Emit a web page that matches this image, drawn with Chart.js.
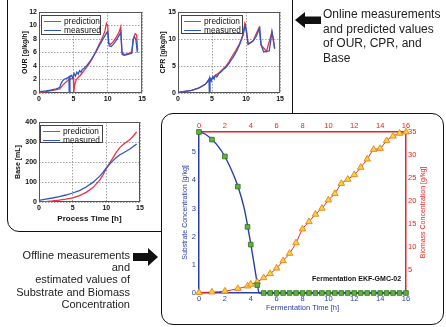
<!DOCTYPE html>
<html>
<head>
<meta charset="utf-8">
<script src="https://cdn.jsdelivr.net/npm/chart.js@4.4.0/dist/chart.umd.min.js"></script>
<style>
body{margin:0;width:446px;height:327px;position:relative;overflow:hidden;background:#fff;font-family:"Liberation Sans",Arial,sans-serif;color:#111}
.box{position:absolute;box-sizing:border-box;border:1.3px solid #111;border-radius:12px;background:#fff}
canvas{position:absolute}
.lg{position:absolute;box-sizing:border-box;border:1px solid #444;background:#fff;font-size:8.3px;line-height:8.6px;padding:1px 2px}
.lg div{white-space:nowrap}
.lg span{display:inline-block;width:17px;height:0;border-top:1.3px solid;vertical-align:middle;margin-right:3px}
.note{position:absolute;white-space:nowrap;color:#222}
</style>
</head>
<body>
<div class="box" style="left:7px;top:-14px;width:286px;height:246px"></div>

<canvas id="our" width="136" height="104" style="left:12px;top:2px"></canvas>
<canvas id="cpr" width="134" height="104" style="left:152px;top:2px"></canvas>
<canvas id="base" width="134" height="116" style="left:12px;top:112px"></canvas>

<div class="lg" style="left:41px;top:15px;width:60px;height:20px">
  <div><span style="color:#f0303c"></span>prediction</div>
  <div><span style="color:#2f55c8"></span>measured</div>
</div>
<div class="lg" style="left:181px;top:15px;width:62px;height:19px">
  <div><span style="color:#f0303c"></span>prediction</div>
  <div><span style="color:#2f55c8"></span>measured</div>
</div>
<div class="lg" style="left:40px;top:125px;width:63px;height:18px">
  <div><span style="color:#f0303c"></span>prediction</div>
  <div><span style="color:#2f55c8"></span>measured</div>
</div>

<div class="box" style="left:161px;top:113px;width:283px;height:212px"></div>
<canvas id="ferm" width="280" height="210" style="left:162px;top:114px"></canvas>
<div class="note" style="left:312px;top:275px;font-size:7px;font-weight:bold;color:#111">Fermentation EKF-GMC-02</div>

<svg width="446" height="327" style="position:absolute;left:0;top:0">
  <polygon points="295,20 305,12 305,16.5 321,16.5 321,24 305,24 305,28" fill="#111"/>
  <polygon points="158,257 148,248 148,253 133,253 133,261 148,261 148,266" fill="#111"/>
</svg>

<div class="note" style="left:323px;top:7px;font-size:12px;line-height:14.6px">Online measurements<br>and predicted values<br>of OUR, CPR, and<br>Base</div>
<div class="note" style="right:316px;top:249px;font-size:11px;line-height:12.2px;text-align:right">Offline measurements<br>and<br>estimated values of<br>Substrate and Biomass<br>Concentration</div>

<script>
// online signals, OUR [g/kg/h]
var ourMeasT = [0, 0.5, 1, 1.5, 2, 2.5, 3, 3.2, 3.5, 3.8, 4.1, 4.35, 4.4, 4.5, 4.7, 4.9, 5.1, 5.3, 5.5, 5.7, 5.9, 6.1, 6.3, 6.6, 6.9, 7.2, 7.5, 7.8, 8.1, 8.4, 8.7, 9.0, 9.3, 9.6, 9.9, 10.0, 10.2, 10.5, 10.8, 11.1, 11.4, 11.7, 11.9, 12.1, 12.4, 12.8, 13.2, 13.5, 13.7, 13.9, 14.1, 14.3];
var ourMeasY = [0.2, 0.25, 0.3, 0.4, 0.5, 0.6, 0.8, 1.4, 1.9, 2.1, 2.2, 2.4, 0.1, 2.5, 2.6, 2.3, 2.9, 2.5, 3.1, 2.8, 3.3, 3.1, 3.5, 3.7, 4.0, 4.4, 4.8, 5.3, 5.8, 6.3, 6.9, 7.4, 8.0, 8.5, 9.0, 9.2, 7.0, 6.9, 7.2, 7.6, 8.1, 8.6, 9.0, 5.7, 5.6, 5.7, 5.8, 5.9, 8.0, 8.3, 7.9, 6.0];
var ourPredT = [0, 1, 2, 3, 3.5, 4, 4.5, 4.9, 5.0, 5.05, 5.2, 5.4, 5.6, 5.8, 6.0, 6.3, 6.6, 7.0, 7.4, 7.8, 8.2, 8.6, 9.0, 9.3, 9.6, 9.8, 10.0, 10.1, 10.4, 10.8, 11.2, 11.6, 11.9, 12.05, 12.4, 12.8, 13.2, 13.5, 13.8, 14.0, 14.2, 14.35];
var ourPredY = [0.1, 0.2, 0.4, 0.6, 1.2, 1.7, 2.0, 2.2, 2.3, 0.1, 1.2, 1.9, 2.2, 2.4, 2.6, 3.0, 3.4, 3.9, 4.5, 5.2, 6.0, 6.9, 7.7, 8.4, 9.2, 10.3, 9.9, 7.4, 7.2, 7.6, 8.2, 8.9, 9.8, 6.0, 5.7, 5.8, 5.9, 6.2, 8.3, 8.8, 8.6, 6.3];

// CPR [g/kg/h]
var cprMeasT = [0, 1, 2, 3, 3.5, 4, 4.3, 4.55, 4.6, 4.7, 4.9, 5.1, 5.3, 5.5, 5.7, 6.0, 6.3, 6.6, 6.9, 7.2, 7.5, 7.8, 8.1, 8.4, 8.7, 9.0, 9.3, 9.6, 9.8, 9.9, 10.1, 10.3, 10.7, 11.1, 11.5, 11.9, 12.0, 12.2, 12.6, 13.0, 13.4, 13.6, 13.8, 14.0, 14.2];
var cprMeasY = [0.1, 0.3, 0.5, 0.9, 1.2, 1.6, 2.0, 2.6, 0.3, 2.8, 2.2, 3.0, 2.6, 3.3, 3.0, 3.6, 3.9, 4.3, 4.6, 5.0, 5.5, 6.1, 6.6, 7.3, 8.0, 8.8, 9.8, 10.9, 12.2, 12.6, 11.2, 9.0, 9.3, 9.7, 10.5, 11.8, 12.3, 8.9, 7.6, 7.7, 7.8, 9.5, 11.4, 10.0, 8.2];
var cprPredT = [0, 1, 2, 3, 4, 4.5, 5.0, 5.5, 6.0, 6.5, 7.0, 7.5, 8.0, 8.5, 9.0, 9.5, 9.8, 10.0, 10.3, 11.0, 11.9, 12.2, 13.0, 13.8, 14.2];
var cprPredY = [0.1, 0.3, 0.5, 0.9, 1.6, 2.4, 2.7, 3.3, 3.7, 4.3, 4.9, 5.8, 6.9, 7.9, 9.0, 10.6, 12.8, 11.6, 9.1, 9.6, 12.1, 8.9, 7.7, 11.3, 8.2];

// Base [mL]
var baseMeasT = [0, 1, 2, 3, 4, 5, 6, 7, 8, 9, 9.5, 10, 10.5, 11, 11.5, 12, 12.5, 13, 13.5, 14, 14.5];
var baseMeasY = [8, 14, 20, 27, 35, 45, 57, 75, 98, 128, 148, 170, 190, 207, 222, 236, 245, 255, 265, 278, 290];
var basePredT = [0, 1, 2, 3, 4, 5, 6, 7, 8, 9, 9.5, 10, 10.5, 11, 11.5, 12, 12.5, 13, 13.5, 14, 14.5];
var basePredY = [0, 2, 5, 9, 14, 21, 32, 48, 72, 108, 135, 168, 195, 222, 250, 272, 288, 300, 312, 330, 350];

// offline: substrate [g/kg], biomass [g/kg]
var subCurveT = [0, 0.5, 1, 1.5, 2, 2.5, 3, 3.5, 3.75, 4, 4.25, 4.5, 4.65, 5, 16];
var subCurveY = [5.72, 5.64, 5.45, 5.2, 4.85, 4.38, 3.8, 3.0, 2.4, 1.75, 1.05, 0.35, 0, 0, 0];
var subT = [0, 1, 2, 3, 3.75, 4, 4.5, 5, 5.5, 6, 6.5, 7, 7.5, 8, 8.5, 9, 9.5, 10, 10.5, 11, 11.5, 12, 12.5, 13, 13.5, 14, 14.5, 15, 15.5, 16];
var subY = [5.72, 5.45, 4.85, 3.78, 2.35, 1.72, 0.28, 0, 0, 0, 0, 0, 0, 0, 0, 0, 0, 0, 0, 0, 0, 0, 0, 0, 0, 0, 0, 0, 0, 0];
var bioT = [0, 1, 2, 3, 3.75, 4, 4.5, 5, 5.5, 6, 6.5, 7, 7.5, 8, 8.5, 9, 9.5, 10, 10.5, 11, 11.5, 12, 12.5, 13, 13.5, 14, 14.5, 15, 15.5, 16];
var bioY = [0.1, 0.2, 0.4, 0.95, 1.5, 1.9, 2.4, 3.3, 4.2, 5.4, 7.0, 8.6, 10.9, 13.9, 15.5, 17.1, 18.4, 20.2, 21.6, 23.8, 24.7, 25.7, 27.3, 29.1, 31.2, 31.4, 33.1, 34.1, 34.7, 35];

var RED = '#f0303c', BLUE = '#2f55c8';
var RED2 = '#e8231f', BLUE2 = '#2a3fa8';
var FONT = '"Liberation Sans", Arial, sans-serif';

var pts = (xs, ys) => xs.map((x, i) => ({x: x, y: ys[i]}));

// box round the plot area
var framePlugin = {
  id: 'frame',
  beforeDatasetsDraw(chart, args, o) {
    var a = chart.chartArea, ctx = chart.ctx;
    ctx.save();
    ctx.strokeStyle = o.color || '#555';
    ctx.lineWidth = 1;
    ctx.strokeRect(a.left + 0.5, a.top + 0.5, a.right - a.left - 1, a.bottom - a.top - 1);
    ctx.restore();
  }
};

// rotated title on the right, reading bottom to top
var sideTitle = {
  id: 'sideTitle',
  afterDraw(chart, args, o) {
    var a = chart.chartArea, ctx = chart.ctx;
    ctx.save();
    ctx.translate(o.x, (a.top + a.bottom) / 2);
    ctx.rotate(-Math.PI / 2);
    ctx.fillStyle = o.color;
    ctx.font = o.font;
    ctx.textAlign = 'center';
    ctx.textBaseline = 'middle';
    ctx.fillText(o.text, 0, 0);
    ctx.restore();
  }
};

function smallChart(id, c) {
  var tickFont = {family: FONT, size: 7, weight: 'bold'};
  var grid = {color: '#8a8a8a', lineWidth: 0.8, drawTicks: false};
  return new Chart(document.getElementById(id), {
    type: 'line',
    data: {
      datasets: [
        {data: pts(c.measT, c.measY), borderColor: BLUE, borderWidth: 1.3, order: 1},
        {data: pts(c.predT, c.predY), borderColor: RED, borderWidth: 1.3, order: 2}
      ]
    },
    options: {
      responsive: false,
      animation: false,
      devicePixelRatio: 1,
      layout: {padding: {top: 10, right: c.right, left: 0, bottom: 0}},
      elements: {point: {radius: 0}, line: {tension: 0}},
      plugins: {legend: {display: false}, tooltip: {enabled: false}, frame: {color: '#555'}},
      scales: {
        x: {
          type: 'linear', min: 0, max: 15,
          afterFit: s => { s.height = c.xh; },
          ticks: {stepSize: 5, font: tickFont, color: '#111', padding: 2, maxRotation: 0},
          grid: grid,
          border: {display: false, dash: [1.5, 1.5]},
          title: c.xTitle ? {display: true, text: c.xTitle, color: '#111',
            font: {family: FONT, size: 8, weight: 'bold'}, padding: {top: 0, bottom: 4}} : {display: false}
        },
        y: {
          type: 'linear', min: 0, max: c.ymax,
          afterFit: s => { s.width = c.yw; },
          ticks: {stepSize: c.ystep, font: tickFont, color: '#111', padding: 2},
          grid: grid,
          border: {display: false, dash: [1.5, 1.5]},
          title: {display: true, text: c.yTitle, color: '#111',
            font: {family: FONT, size: 7, weight: 'bold'}, padding: {top: c.tpad, bottom: 0}}
        }
      }
    },
    plugins: [framePlugin]
  });
}

smallChart('our', {measT: ourMeasT, measY: ourMeasY, predT: ourPredT, predY: ourPredY,
  ymax: 12, ystep: 2, yTitle: 'OUR [g/kg/h]', yw: 27, xh: 13, right: 5, tpad: 9});
smallChart('cpr', {measT: cprMeasT, measY: cprMeasY, predT: cprPredT, predY: cprPredY,
  ymax: 15, ystep: 5, yTitle: 'CPR [g/kg/h]', yw: 26, xh: 13, right: 5, tpad: 7});
smallChart('base', {measT: baseMeasT, measY: baseMeasY, predT: basePredT, predY: basePredY,
  ymax: 400, ystep: 100, yTitle: 'Base [mL]', yw: 27, xh: 26, right: 6, tpad: 2,
  xTitle: 'Process Time [h]'});

var fTick = {family: FONT, size: 7.5};
new Chart(document.getElementById('ferm'), {
  type: 'line',
  data: {
    datasets: [
      {data: pts(subT, subY), showLine: false, pointStyle: 'rect', pointRadius: 3.3,
        backgroundColor: '#62b23a', borderColor: '#2e6e1e', pointBorderWidth: 0.8,
        yAxisID: 'y', clip: false, order: 1},
      {data: pts(bioT, bioY), borderColor: RED2, borderWidth: 1, tension: 0.25,
        pointStyle: 'triangle', pointRadius: 3.8, pointBackgroundColor: '#f7d33c',
        pointBorderColor: '#e5821a', pointBorderWidth: 0.9, yAxisID: 'y2', clip: false, order: 2},
      {data: pts(subCurveT, subCurveY), borderColor: BLUE2, borderWidth: 1.4, pointRadius: 0,
        cubicInterpolationMode: 'monotone', yAxisID: 'y', clip: false, order: 3}
    ]
  },
  options: {
    responsive: false,
    animation: false,
    devicePixelRatio: 1,
    layout: {padding: 0},
    plugins: {
      legend: {display: false}, tooltip: {enabled: false},
      sideTitle: {text: 'Biomass Concentration [g/kg]', x: 261, color: RED2, font: '7px ' + FONT}
    },
    scales: {
      x: {
        type: 'linear', position: 'bottom', min: 0, max: 16,
        afterFit: s => { s.height = 31; },
        ticks: {stepSize: 2, color: BLUE2, font: fTick, padding: 1, maxRotation: 0},
        grid: {display: false, drawTicks: false},
        border: {color: BLUE2, width: 1.5},
        title: {display: true, text: 'Fermentation Time [h]', color: BLUE2,
          font: {family: FONT, size: 7.5}, padding: {top: 0, bottom: 12}}
      },
      x2: {
        type: 'linear', position: 'top', min: 0, max: 16,
        afterFit: s => { s.height = 18; },
        ticks: {stepSize: 2, color: RED2, font: fTick, padding: 2, maxRotation: 0},
        grid: {display: false, drawTicks: false},
        border: {color: RED2, width: 1.5}
      },
      y: {
        type: 'linear', position: 'left', min: 0, max: 5.72,
        afterFit: s => { s.width = 37; },
        ticks: {stepSize: 1, includeBounds: false, color: BLUE2, font: fTick, padding: 3},
        grid: {display: false, drawTicks: false},
        border: {color: BLUE2, width: 1.5},
        title: {display: true, text: 'Substrate Concentration [g/kg]', color: BLUE2,
          font: {family: FONT, size: 7}, padding: {top: 19, bottom: 0}}
      },
      y2: {
        type: 'linear', position: 'right', min: 0, max: 35,
        afterFit: s => { s.width = 36; },
        ticks: {stepSize: 5, color: RED2, font: fTick, padding: 2,
          callback: v => v === 0 ? '' : v},
        grid: {display: false, drawTicks: false},
        border: {color: RED2, width: 1.5}
      }
    }
  },
  plugins: [sideTitle]
});
</script>
</body>
</html>
